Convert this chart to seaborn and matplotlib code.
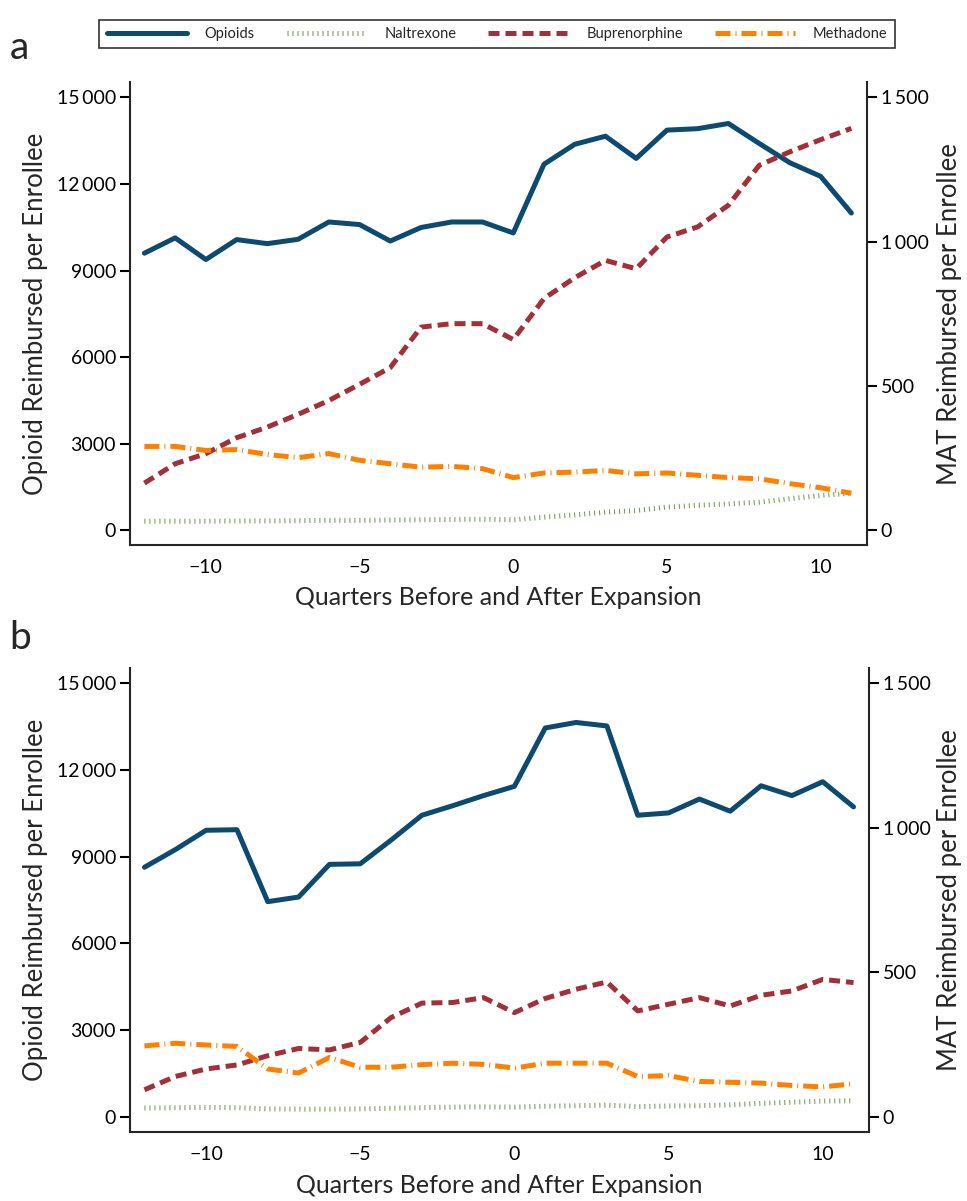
import numpy as np
import pandas as pd
import matplotlib
matplotlib.use("Agg")
import matplotlib.pyplot as plt
import seaborn as sns

# quarters relative to expansion
quarters = list(range(-12, 12))

# panel a
opioids_a = [9600, 10130, 9380, 10070, 9930, 10080, 10680, 10590, 10020, 10490, 10680, 10680, 10300,
             12680, 13370, 13650, 12880, 13860, 13910, 14090, 13400, 12730, 12260, 10990]
naltrexone_a = [32, 32, 32, 33, 33, 34, 35, 35, 36, 37, 38, 39, 37,
                46, 54, 63, 69, 81, 87, 92, 98, 110, 121, 129]
buprenorphine_a = [164, 231, 266, 321, 358, 402, 450, 506, 564, 704, 716, 716, 661,
                   803, 875, 935, 906, 1016, 1051, 1126, 1264, 1311, 1353, 1392]
methadone_a = [291, 291, 277, 280, 263, 252, 266, 243, 231, 219, 222, 214, 183,
               199, 202, 208, 196, 199, 191, 183, 179, 162, 148, 129]

# panel b
opioids_b = [8630, 9240, 9910, 9930, 7440, 7600, 8730, 8750, 9570, 10430, 10760, 11110, 11430,
             13450, 13640, 13520, 10430, 10510, 10990, 10570, 11450, 11110, 11590, 10720]
naltrexone_b = [30, 31, 32, 31, 27, 26, 26, 27, 29, 31, 33, 34, 33,
                36, 38, 40, 35, 37, 38, 41, 46, 50, 54, 55]
buprenorphine_b = [93, 139, 165, 179, 211, 236, 231, 257, 343, 393, 395, 412, 360,
                   409, 441, 466, 366, 389, 412, 383, 420, 435, 475, 464]
methadone_b = [245, 254, 248, 243, 165, 151, 205, 171, 171, 180, 185, 181, 168,
               185, 185, 185, 139, 142, 122, 119, 116, 108, 103, 114]

left_ticks = [0, 3000, 6000, 9000, 12000, 15000]
left_labels = ["0", "3000", "6000", "9000", "12\u2009000", "15\u2009000"]
right_ticks = [0, 500, 1000, 1500]
right_labels = ["0", "500", "1\u2009000", "1\u2009500"]
x_ticks = [-10, -5, 0, 5, 10]
x_labels = ["\u221210", "\u22125", "0", "5", "10"]

sns.set_style("white")
plt.rcParams["font.family"] = ["Lato", "DejaVu Sans"]
plt.rcParams["axes.linewidth"] = 1.5

c_opi = "#0d4a70"
c_nal = "#6b9a4f"
c_bup = "#a33038"
c_met = "#ff8000"
lw = 3.6

fig = plt.figure(figsize=(9.67, 12.01), dpi=100)
# name, axes rect, panel letter y, xlabel pad, right label x (axes fraction)
panels = [
    ("a", [0.1344, 0.5458, 0.7619, 0.3859], 1.034, 7, 1.112, opioids_a, naltrexone_a, buprenorphine_a, methadone_a),
    ("b", [0.1344, 0.0577, 0.7642, 0.3861], 1.025, 8, 1.109, opioids_b, naltrexone_b, buprenorphine_b, methadone_b),
]

handles = []
for name, rect, label_y, xpad, rx, opi, nal, bup, met in panels:
    ax = fig.add_axes(rect)
    ax2 = ax.twinx()
    df = pd.DataFrame({"q": quarters, "opi": opi, "nal": nal, "bup": bup, "met": met})

    sns.lineplot(data=df, x="q", y="opi", ax=ax, color=c_opi, lw=lw, solid_capstyle="round", zorder=3)
    sns.lineplot(data=df, x="q", y="nal", ax=ax2, color=c_nal, lw=lw, zorder=2)
    sns.lineplot(data=df, x="q", y="bup", ax=ax2, color=c_bup, lw=lw, zorder=2)
    sns.lineplot(data=df, x="q", y="met", ax=ax2, color=c_met, lw=lw, zorder=2)
    ax2.lines[0].set_dashes((0.2, 0.8))
    ax2.lines[1].set_dashes((2.2, 1.2))
    ax2.lines[2].set_dashes((3, 1, 0.2, 1))

    ax.set_xlim(-12.47, 11.5)
    ax.set_ylim(-520, 15525)
    ax2.set_ylim(-52, 1552.5)
    ax.set_xticks(x_ticks)
    ax.set_xticklabels(x_labels)
    ax.set_yticks(left_ticks)
    ax.set_yticklabels(left_labels)
    ax2.set_yticks(right_ticks)
    ax2.set_yticklabels(right_labels)

    for a in (ax, ax2):
        a.spines["top"].set_visible(False)
        a.tick_params(direction="out", length=7, width=1.5, labelsize=14, colors="black", pad=3)
    ax.spines["right"].set_visible(False)
    ax2.spines["left"].set_visible(False)
    ax2.spines["bottom"].set_visible(False)
    ax.tick_params(axis="y", left=True, right=False)
    ax2.tick_params(axis="y", right=True, left=False)

    ax.set_xlabel("Quarters Before and After Expansion", fontsize=18, labelpad=xpad)
    ax.set_ylabel("Opioid Reimbursed per Enrollee", fontsize=18.5, labelpad=6)
    ax2.set_ylabel("MAT Reimbursed per Enrollee", fontsize=18.5, va="center", ha="center")
    ax2.yaxis.set_label_coords(rx, 0.5)
    ax.text(-0.163, label_y, name, transform=ax.transAxes, fontsize=28,
            ha="left", va="bottom")

    if not handles:
        handles = [ax.lines[0]] + list(ax2.lines[:3])

leg = fig.legend(handles, ["Opioids", "Naltrexone", "Buprenorphine", "Methadone"],
                 loc="center", bbox_to_anchor=(497 / 967, 1 - 34 / 1201), ncol=4,
                 frameon=True, fancybox=False, fontsize=10.5, handlelength=5.5,
                 columnspacing=2.2, handletextpad=1.2, borderpad=0.5)
leg.get_frame().set_edgecolor("black")
leg.get_frame().set_linewidth(1.2)

fig.savefig("out.png", dpi=100)
